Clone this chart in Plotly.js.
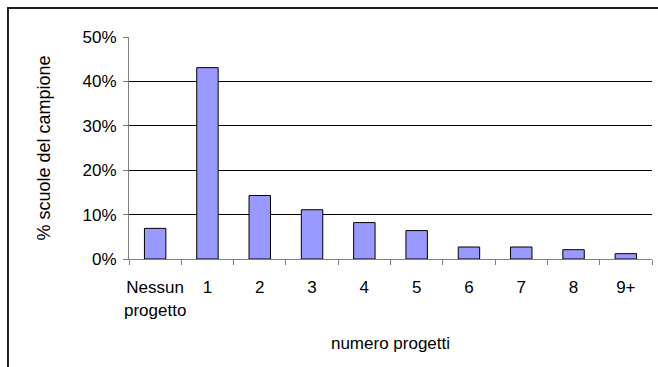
<!DOCTYPE html>
<html>
<head>
<meta charset="utf-8">
<script src="https://cdn.plot.ly/plotly-3.0.1.min.js"></script>
<style>html,body{margin:0;padding:0;background:#fff;}#chart{width:658px;height:367px;}</style>
</head>
<body>
<div id="chart"></div>
<script>
const categories = ["Nessun<br>progetto", "1", "2", "3", "4", "5", "6", "7", "8", "9+"];
const shareSchools = [0.069, 0.431, 0.143, 0.111, 0.082, 0.064, 0.027, 0.027, 0.021, 0.012];
const yTickValues = [0, 0.1, 0.2, 0.3, 0.4, 0.5];
const yTickLabels = ["0%", "10%", "20%", "30%", "40%", "50%"];

const FONT = "Liberation Sans, Arial, sans-serif";

Plotly.newPlot("chart", [{
  type: "bar",
  x: categories,
  y: shareSchools,
  marker: {color: "#9999FF", line: {color: "#000000", width: 1}},
  width: 0.41,
  hoverinfo: "none"
}], {
  width: 658, height: 367,
  margin: {l: 129, r: 6, t: 37, b: 108, pad: 0},
  paper_bgcolor: "#ffffff",
  plot_bgcolor: "#ffffff",
  font: {family: FONT, size: 17, color: "#000000"},
  showlegend: false,
  bargap: 0.59,
  xaxis: {
    type: "category",
    tickson: "boundaries",
    tickangle: 0,
    ticks: "outside", ticklen: 5, tickcolor: "#808080",
    ticklabelstandoff: 13,
    showline: true, linecolor: "#808080", linewidth: 1,
    showgrid: false, zeroline: false,
    tickfont: {family: FONT, size: 17, color: "#000"},
    title: {text: "numero progetti", font: {family: FONT, size: 17, color: "#000"}, standoff: 18},
    automargin: false
  },
  yaxis: {
    range: [0, 0.5],
    tickvals: yTickValues, ticktext: yTickLabels,
    ticks: "outside", ticklen: 5, tickcolor: "#808080",
    ticklabelstandoff: 3,
    showline: true, linecolor: "#808080", linewidth: 1,
    showgrid: true, gridcolor: "#000000", gridwidth: 1,
    zeroline: false,
    tickfont: {family: FONT, size: 17, color: "#000"},
    title: {text: "% scuole del campione", font: {family: FONT, size: 18, color: "#000"}, standoff: 27},
    automargin: false
  },
  shapes: [{
    type: "rect", xref: "paper", yref: "paper",
    x0: -0.2314, x1: 1.2, y0: -0.6, y1: 1.1306,
    line: {color: "#222222", width: 2}, fillcolor: "rgba(0,0,0,0)", layer: "above"
  }]
}, {displayModeBar: false, staticPlot: true});
</script>
</body>
</html>
